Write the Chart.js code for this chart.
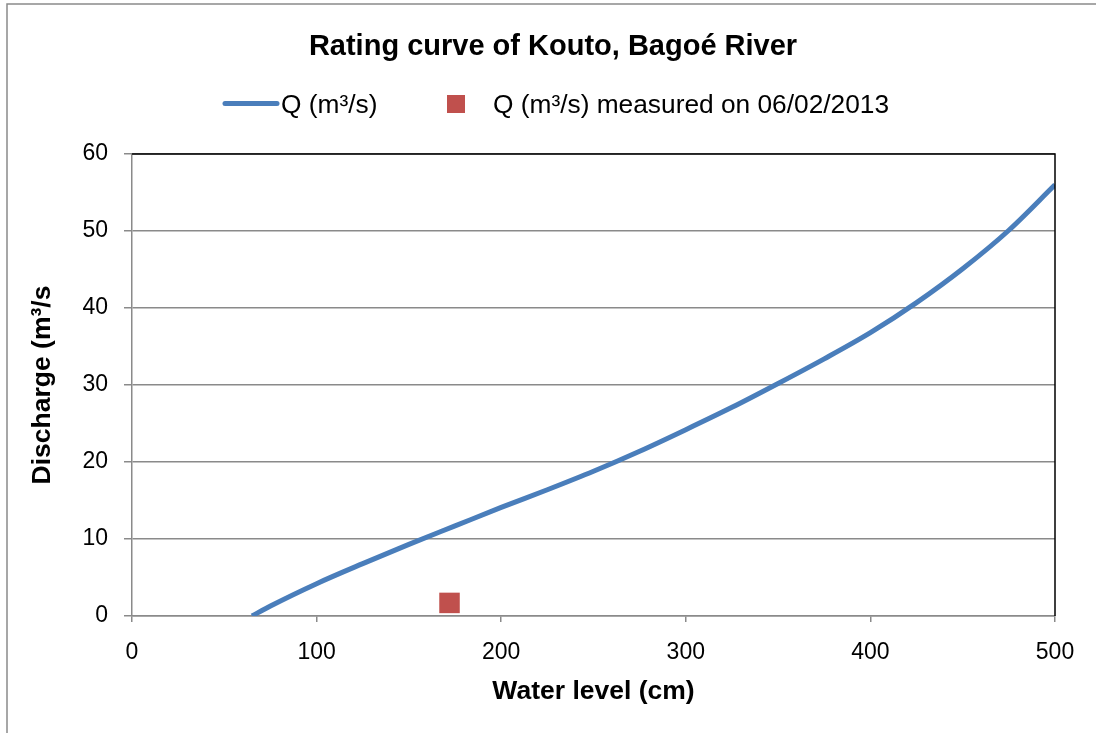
<!DOCTYPE html>
<html>
<head>
<meta charset="utf-8">
<script src="https://cdn.jsdelivr.net/npm/chart.js@4.4.1/dist/chart.umd.min.js"></script>
<style>
  html, body { margin: 0; padding: 0; background: #fff; }
  #wrap { width: 1096px; height: 733px; position: relative; }
</style>
</head>
<body>
<div id="wrap"><canvas id="rating-curve"></canvas></div>
<script>
// rating curve (water level in cm, discharge in m3/s)
const waterLevel = [65, 75, 100, 125, 150, 175, 200, 225, 250, 275, 300, 325, 350, 375, 400, 425, 450, 475, 500];
const discharge  = [0, 1.3, 4.2, 6.8, 9.3, 11.7, 14.1, 16.4, 18.8, 21.4, 24.2, 27.1, 30.2, 33.4, 36.8, 40.7, 45.1, 50.1, 56.0];

// the single gauging
const measuredLevel = [172];
const measuredDischarge = [1.7];

const seriesNames = ['Q (m³/s)', 'Q (m³/s) measured on 06/02/2013'];
const xTicks = [0, 100, 200, 300, 400, 500];
const yTicks = [0, 10, 20, 30, 40, 50, 60];

const FONT = '"Liberation Sans", Arial, sans-serif';
const GRID = '#8a8a8a';

// outer chart frame + black top/right edge of the plot area
const frame = {
    id: 'frame',
    beforeDraw(chart) {
        const ctx = chart.ctx;
        ctx.save();
        ctx.fillStyle = '#fff';
        ctx.fillRect(0, 0, chart.width, chart.height);
        ctx.strokeStyle = '#8a8a8a';
        ctx.lineWidth = 1.5;
        ctx.strokeRect(7, 4, chart.width + 50, chart.height + 50);
        ctx.restore();
    },
    afterDraw(chart) {
        const {ctx, chartArea: a} = chart;
        ctx.save();
        ctx.strokeStyle = '#000';
        ctx.lineWidth = 1.5;
        ctx.beginPath();
        ctx.moveTo(a.left, a.top);
        ctx.lineTo(a.right, a.top);
        ctx.lineTo(a.right, a.bottom);
        ctx.stroke();
        ctx.restore();
    }
};

// legend the way excel lays it out (left of centre, long line sample)
const excelLegend = {
    id: 'excelLegend',
    afterDraw(chart) {
        const ctx = chart.ctx;
        const ds = chart.data.datasets;
        ctx.save();
        ctx.font = '26.3px ' + FONT;
        ctx.textBaseline = 'alphabetic';
        ctx.strokeStyle = ds[0].borderColor;
        ctx.lineWidth = 5;
        ctx.lineCap = 'round';
        ctx.beginPath();
        ctx.moveTo(225, 103.5);
        ctx.lineTo(277, 103.5);
        ctx.stroke();
        ctx.fillStyle = '#000';
        ctx.fillText(ds[0].label, 281, 113);
        ctx.fillStyle = ds[1].backgroundColor;
        ctx.fillRect(447, 95, 18, 18);
        ctx.fillStyle = '#000';
        ctx.fillText(ds[1].label, 493, 113);
        ctx.restore();
    }
};

const ctx = document.getElementById('rating-curve').getContext('2d');
new Chart(ctx, {
    type: 'scatter',
    data: {
        datasets: [{
            label: seriesNames[0],
            data: waterLevel.map((x, i) => ({x: x, y: discharge[i]})),
            showLine: true,
            borderColor: '#4A7EBB',
            backgroundColor: '#4A7EBB',
            borderWidth: 5,
            pointRadius: 0,
            cubicInterpolationMode: 'monotone',
            fill: false
        }, {
            label: seriesNames[1],
            data: measuredLevel.map((x, i) => ({x: x, y: measuredDischarge[i]})),
            showLine: false,
            pointStyle: 'rect',
            pointRadius: 14.5,
            backgroundColor: '#C0504D',
            borderColor: '#C0504D',
            borderWidth: 0
        }]
    },
    options: {
        responsive: true,
        maintainAspectRatio: false,
        animation: false,
        // left padding only shifts the title centre; the y axis width makes up for it
        layout: { padding: { top: 0, right: 41, bottom: 0, left: 51 } },
        plugins: {
            legend: { display: false },
            tooltip: { enabled: false },
            title: {
                display: true,
                text: 'Rating curve of Kouto, Bagoé River',
                color: '#000',
                font: { family: FONT, size: 29, weight: 'bold', lineHeight: 1.2 },
                padding: { top: 29.6, bottom: 89.6 }
            }
        },
        scales: {
            x: {
                type: 'linear',
                min: xTicks[0],
                max: xTicks[xTicks.length - 1],
                afterFit(scale) { scale.height = 117; },
                afterBuildTicks(scale) { scale.ticks = xTicks.map(v => ({value: v})); },
                ticks: { color: '#000', font: { family: FONT, size: 23 }, padding: 17, maxRotation: 0 },
                grid: { display: true, drawOnChartArea: false, drawTicks: true, tickLength: 6, tickColor: GRID, lineWidth: 1.5 },
                border: { color: GRID, width: 1.5 },
                title: {
                    display: true,
                    text: 'Water level (cm)',
                    color: '#000',
                    font: { family: FONT, size: 26.5, weight: 'bold', lineHeight: 1.2 },
                    padding: { top: 0, bottom: 25.6 }
                }
            },
            y: {
                type: 'linear',
                min: yTicks[0],
                max: yTicks[yTicks.length - 1],
                afterFit(scale) { scale.width = 81; },
                afterBuildTicks(scale) { scale.ticks = yTicks.map(v => ({value: v})); },
                ticks: { color: '#000', font: { family: FONT, size: 23 }, padding: 16 },
                grid: { color: GRID, lineWidth: 1.5, tickLength: 8, tickColor: GRID },
                border: { color: GRID, width: 1.5 },
                title: {
                    display: true,
                    text: 'Discharge (m³/s',
                    color: '#000',
                    font: { family: FONT, size: 26.5, weight: 'bold', lineHeight: 1.2 },
                    padding: { top: -24.4, bottom: 0 }
                }
            }
        }
    },
    plugins: [frame, excelLegend]
});
</script>
</body>
</html>
